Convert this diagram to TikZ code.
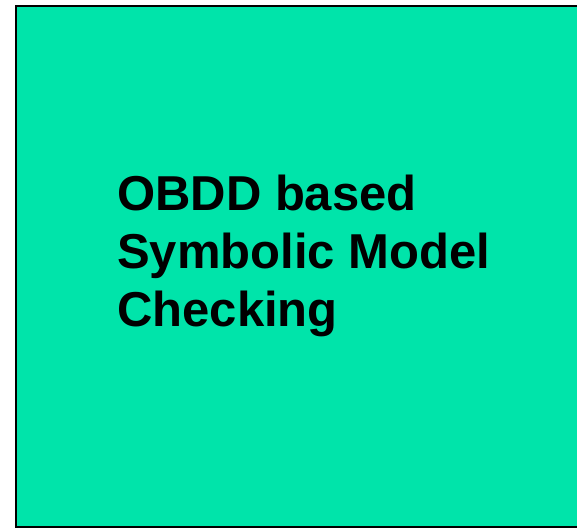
\documentclass[tikz,border=0pt]{standalone}
\usepackage{fontspec}
\setmainfont{Liberation Sans}
\definecolor{panelgreen}{RGB}{0,228,170}
\begin{document}
\begin{tikzpicture}[x=1pt,y=-1pt,
  panel/.style={fill=panelgreen},
  frame/.style={draw=black,line width=2pt},
  title/.style={font=\fontsize{49}{58}\selectfont\bfseries,align=left,inner sep=0pt,anchor=base west}]
\useasboundingbox (0,0) rectangle (577,528);
% green panel, open on the right
\fill[panel] (16,6) rectangle (580,527);
\draw[frame] (580,6) -- (16,6) -- (16,527) -- (580,527);
% anchor sits on the baseline of the last line
\node[title] (heading) at (117,326) {OBDD based\\Symbolic Model\\Checking};
\end{tikzpicture}
\end{document}
